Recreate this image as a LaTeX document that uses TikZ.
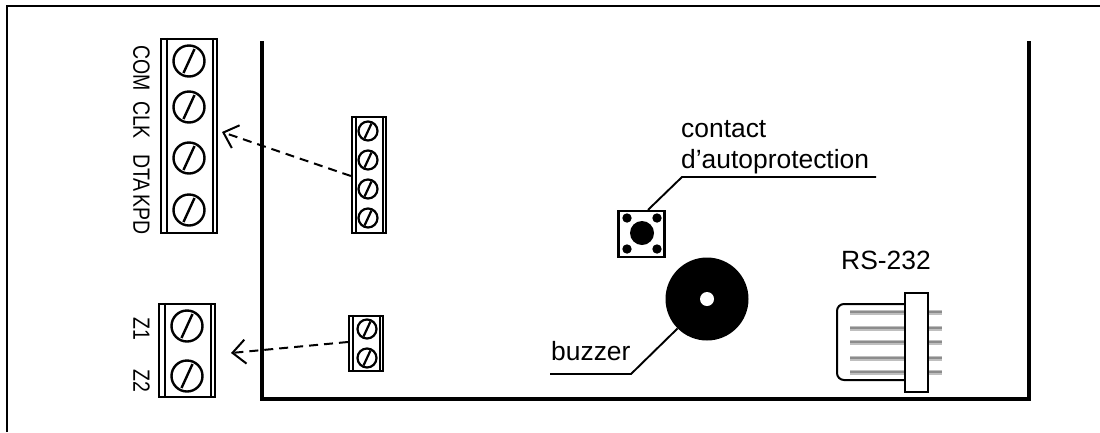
\documentclass[tikz,border=0pt]{standalone}
\usepackage{tikz}
\usepackage{xcolor}
\usepackage{fontspec}
\setmainfont{Liberation Sans}
\newfontfamily\labelfont[FakeStretch=0.83]{Liberation Sans}
\usetikzlibrary{arrows.meta}

\tikzset{
  screwbig/.style={circle,draw,line width=2.4pt,minimum size=31pt,inner sep=0pt,
    path picture={\draw [line width=2.4pt] (path picture bounding box.center) +(-5.5,12) -- +(5.5,-12);}},
  screwsmall/.style={circle,draw,line width=2.2pt,minimum size=19pt,inner sep=0pt,
    path picture={\draw [line width=2.2pt] (path picture bounding box.center) +(-3.5,7.5) -- +(3.5,-7.5);}},
  block/.style={draw,line width=2.2pt,inner sep=0pt},
  label/.style={rotate=-90,font=\labelfont\fontsize{23.5}{24}\selectfont,inner sep=0pt},
  caption/.style={font=\fontsize{26.4}{31}\selectfont,inner sep=0pt,anchor=base west},
  pin/.style={line width=5pt,color=gray!50},
  pincore/.style={line width=1.8pt,color=gray!90},
  leader/.style={line width=1.9pt},
  dasharrow/.style={dash pattern=on 9pt off 6pt,line width=2pt,
    -{Straight Barb[length=13pt,width=24pt,line width=2pt]}},
}

\begin{document}
\begin{tikzpicture}[x=1pt,y=-1pt]
\useasboundingbox (0,0) rectangle (1100,432);
\draw [line width=2.2pt] (7.3,432) -- (7.3,6.2) -- (1100,6.2);
\draw [line width=4pt] (262,41) -- (262,398.5) -- (1028.5,398.5) -- (1028.5,41);

% big terminal blocks
\path
    (189,136) node [block,minimum width=56pt,minimum height=194pt] (bigfour) {}
    (187,350.5) node [block,minimum width=56pt,minimum height=93pt] (bigtwo) {};
\draw [line width=1.6pt]
    (bigfour.north west) +(7,0) -- ([xshift=7pt]bigfour.south west)
    (bigfour.north east) +(-5,0) -- ([xshift=-5pt]bigfour.south east)
    (bigtwo.north west) +(7,0) -- ([xshift=7pt]bigtwo.south west)
    (bigtwo.north east) +(-5,0) -- ([xshift=-5pt]bigtwo.south east);
\path
    (189,61) node [screwbig] (com) {}
    (189,107) node [screwbig] (clk) {}
    (189,158) node [screwbig] (dta) {}
    (189,210) node [screwbig] (kpd) {}
    (187,326) node [screwbig] (zone1) {}
    (187,376) node [screwbig] (zone2) {};
\path
    (141.5,68) node [label] (comtext) {COM}
    (141.5,120) node [label] (clktext) {CLK}
    (141.5,173) node [label] (dtatext) {DTA}
    (141.5,215) node [label] (kpdtext) {KPD}
    (141.5,329) node [label] (zone1text) {Z1}
    (141.5,381) node [label] (zone2text) {Z2};

% small terminal blocks
\path
    (369,175) node [block,minimum width=34pt,minimum height=116pt] (smallfour) {}
    (366,343.5) node [block,minimum width=34pt,minimum height=55pt] (smalltwo) {};
\draw [line width=1.6pt]
    (smallfour.north west) +(5,0) -- ([xshift=5pt]smallfour.south west)
    (smallfour.north east) +(-4,0) -- ([xshift=-4pt]smallfour.south east)
    (smalltwo.north west) +(5,0) -- ([xshift=5pt]smalltwo.south west)
    (smalltwo.north east) +(-4,0) -- ([xshift=-4pt]smalltwo.south east);
\path
    (368,131) node [screwsmall] (s1) {}
    (368,160) node [screwsmall] (s2) {}
    (368,189) node [screwsmall] (s3) {}
    (368,218) node [screwsmall] (s4) {}
    (367,329) node [screwsmall] (s5) {}
    (367,358) node [screwsmall] (s6) {};

% arrows
\coordinate (tipfour) at (222,132);
\coordinate (tiptwo) at (231,353);
\draw [dasharrow] (smallfour.west |- 0,176) -- (tipfour);
\draw [dasharrow] (smalltwo.west |- 0,342) -- (tiptwo);

% switch
\node [draw,line width=2.2pt,minimum size=46pt,inner sep=0pt] (switch) at (641.5,234) {};
\path [fill=black]
    (642,233) circle (12)
    (627,218) circle (4.7)
    (657,218) circle (4.7)
    (627,249) circle (4.7)
    (657,249) circle (4.7);
\node [caption] (contact) at (681,137) {contact};
\node [caption] (autoprot) at (681,168) {d’autoprotection};
\coordinate (elbowswitch) at (682,177);
\coordinate (endswitch) at (876,177);
\draw [leader] (switch.north -| 648,0) -- (elbowswitch) -- (endswitch);

% buzzer
\node [circle,fill=black,minimum size=83pt,inner sep=0pt] (buzzer) at (707,299) {};
\node [circle,fill=white,minimum size=14pt,inner sep=0pt] (hole) at (707,299) {};
\node [caption] (buzzertext) at (551,360) {buzzer};
\coordinate (elbowbuzzer) at (631,374);
\coordinate (endbuzzer) at (550,374);
\draw [leader] (buzzer.225) -- (elbowbuzzer) -- (endbuzzer);

% RS-232 connector
\node [caption] (rstext) at (841,269) {RS-232};
\draw [pin]
    (850,312) -- (942,312) (850,328) -- (942,328) (850,342) -- (942,342)
    (850,358) -- (942,358) (850,372) -- (942,372);
\draw [pincore]
    (850,312) -- (942,312) (850,328) -- (942,328) (850,342) -- (942,342)
    (850,358) -- (942,358) (850,372) -- (942,372);
\draw [line width=2pt,rounded corners=7pt] (905,304) -- (837,304) -- (837,380) -- (905,380);
\node [draw,fill=white,line width=2.2pt,minimum width=23pt,minimum height=99pt,inner sep=0pt] (flange) at (916.5,342.5) {};
\end{tikzpicture}
\end{document}
